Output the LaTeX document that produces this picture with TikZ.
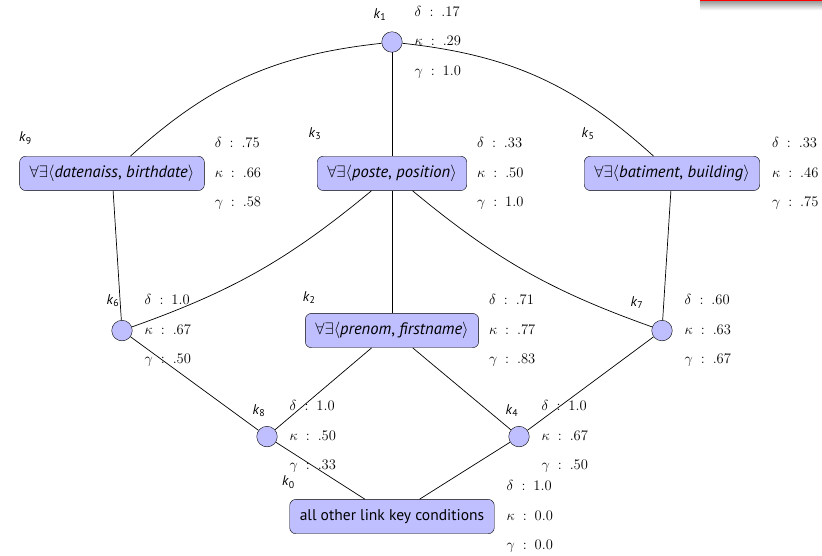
\RequirePackage{fix-cm}
\documentclass[tikz,border=0pt]{standalone}
\usepackage{amsmath}
\usepackage[no-math]{fontspec}
\setmainfont{PT Sans}
\usepackage{tikz}
\usetikzlibrary{positioning}
\definecolor{keyblue}{RGB}{191,191,255}
\tikzstyle{keybox}  = [rectangle, draw, fill=keyblue, rounded corners=6pt, minimum height=1.2cm, inner xsep=10pt, font=\fontsize{16.5}{19}\selectfont]
\tikzstyle{keydot}  = [circle, draw, fill=keyblue, minimum size=0.72cm, inner sep=0pt]
\tikzstyle{keyname} = [inner sep=0pt, font=\fontsize{14}{16}\selectfont]
\tikzstyle{keystat} = [align=left, inner sep=0pt, font=\fontsize{14.5}{17}\selectfont]
\tikzstyle{line}    = [draw, line width=0.7pt]
\newcommand{\kname}[1]{\textit{k}\textsubscript{#1}}
\newcommand{\dkg}[3]{$\delta\ :\ #1$\\[12.5pt]$\kappa\ :\ #2$\\[12.5pt]$\gamma\ :\ #3$}
\newcommand{\fe}[2]{$\forall\exists\langle$\textit{#1}, \textit{#2}$\rangle$}
\begin{document}
\begin{tikzpicture}[node distance=2cm, auto]
	\useasboundingbox (0,0) rectangle (28.77,19.46);
	% slide header remnant
	\fill[red] (24.5,19.39) rectangle (28.77,19.46);
	\shade[top color=gray!70, bottom color=white] (24.5,19.1) rectangle (28.77,19.39);
	% lattice
	\node [keydot] (k1) at (13.72,17.99) {};
	\node [keybox, on grid, below=4.6cm of k1] (k3) {\fe{poste}{position}};
	\node [keybox, on grid, left=9.8cm of k3] (k9) {\fe{datenaiss}{birthdate}};
	\node [keybox, on grid, right=9.8cm of k3] (k5) {\fe{batiment}{building}};
	\node [keybox, on grid, below=5.5cm of k3] (k2) {\fe{prenom}{firstname}};
	\node [keydot, on grid, left=9.45cm of k2] (k6) {};
	\node [keydot, on grid, right=9.45cm of k2] (k7) {};
	\node [keydot, on grid, below left=3.71cm and 4.375cm of k2] (k8) {};
	\node [keydot, on grid, below right=3.71cm and 4.445cm of k2] (k4) {};
	\node [keybox, on grid, below=6.51cm of k2, font=\fontsize{15.5}{18}\selectfont] (k0) {all other link key conditions};
	\path [line] (k1) -- (k3);
	\path [line] (k1) to[bend right=18] (k9);
	\path [line] (k1) to[bend left=18] (k5);
	\path [line] (k9) -- (k6);
	\path [line] (k3) to[bend left=10] (k6);
	\path [line] (k3) -- (k2);
	\path [line] (k3) to[bend right=10] (k7);
	\path [line] (k5) -- (k7);
	\path [line] (k6) -- (k8);
	\path [line] (k2) -- (k8);
	\path [line] (k2) -- (k4);
	\path [line] (k7) -- (k4);
	\path [line] (k8) -- (k0);
	\path [line] (k4) -- (k0);
	% names
	\node [keyname] (n1) at ([shift={(-0.42,0.945)}]k1) {\kname{1}};
	\node [keyname] (n9) at ([shift={(0.21,0.63)}]k9.north west) {\kname{9}};
	\node [keyname] (n3) at ([shift={(-0.07,0.8)}]k3.north west) {\kname{3}};
	\node [keyname] (n5) at ([shift={(0.14,0.8)}]k5.north west) {\kname{5}};
	\node [keyname] (n6) at ([shift={(-0.315,1.05)}]k6) {\kname{6}};
	\node [keyname] (n2) at ([shift={(0.14,0.56)}]k2.north west) {\kname{2}};
	\node [keyname] (n7) at ([shift={(-0.875,0.98)}]k7) {\kname{7}};
	\node [keyname] (n8) at ([shift={(-0.28,0.91)}]k8) {\kname{8}};
	\node [keyname] (n4) at ([shift={(-0.245,0.91)}]k4) {\kname{4}};
	\node [keyname] (n0) at ([shift={(-0.035,0.6)}]k0.north west) {\kname{0}};
	% measures
	\node [keystat, right=12pt of k1] (s1) {\dkg{.17}{.29}{1.0}};
	\node [keystat, right=10pt of k9] (s9) {\dkg{.75}{.66}{.58}};
	\node [keystat, right=10pt of k3] (s3) {\dkg{.33}{.50}{1.0}};
	\node [keystat, right=12pt of k5] (s5) {\dkg{.33}{.46}{.75}};
	\node [keystat, right=12pt of k6] (s6) {\dkg{1.0}{.67}{.50}};
	\node [keystat, right=10pt of k2] (s2) {\dkg{.71}{.77}{.83}};
	\node [keystat, right=12pt of k7] (s7) {\dkg{.60}{.63}{.67}};
	\node [keystat, right=12pt of k8] (s8) {\dkg{1.0}{.50}{.33}};
	\node [keystat, right=12pt of k4] (s4) {\dkg{1.0}{.67}{.50}};
	\node [keystat, right=12pt of k0] (s0) {\dkg{1.0}{0.0}{0.0}};
\end{tikzpicture}
\end{document}
